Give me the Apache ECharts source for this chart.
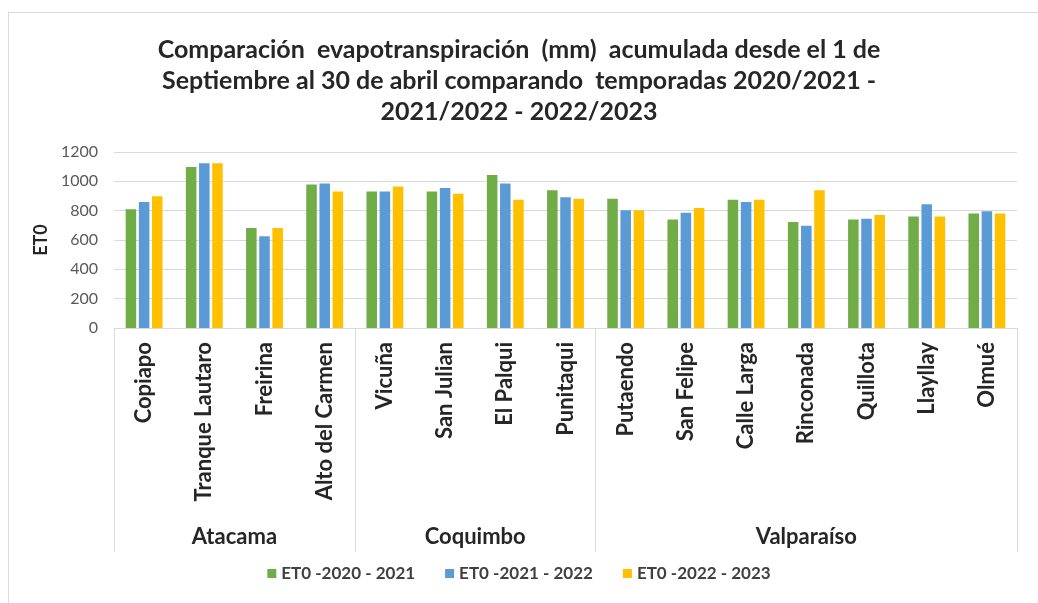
<!DOCTYPE html>
<html>
<head>
<meta charset="utf-8">
<script src="https://cdn.jsdelivr.net/npm/echarts@6/dist/echarts.min.js"></script>
<style>
  html, body { margin: 0; padding: 0; background: #fff; }
  #frame {
    position: absolute; left: 8px; top: 12px; width: 1100px; height: 700px;
    border-left: 1px solid #d9d9d9; border-top: 1px solid #d9d9d9;
  }
  #chart { position: absolute; left: 0; top: 0; width: 1038px; height: 603px; }
</style>
</head>
<body>
<div id="frame"></div>
<div id="chart"></div>
<script>
// estaciones y regiones
var cities = ['Copiapo', 'Tranque Lautaro', 'Freirina', 'Alto del Carmen',
  'Vicuña', 'San Julian', 'El Palqui', 'Punitaqui',
  'Putaendo', 'San Felipe', 'Calle Larga', 'Rinconada', 'Quillota', 'Llayllay', 'Olmué'];
var regions = ['Atacama', 'Coquimbo', 'Valparaíso'];
var regionSizes = [4, 4, 7];

var seriesNames = ['ET0 -2020 - 2021', 'ET0 -2021 - 2022', 'ET0 -2022 - 2023'];
var et2020 = [809, 1098, 682, 979, 930, 930, 1044, 939, 882, 739, 875, 723, 739, 761, 780];
var et2021 = [859, 1123, 625, 986, 930, 955, 986, 891, 802, 786, 859, 698, 745, 843, 796];
var et2022 = [898, 1123, 682, 930, 964, 916, 875, 882, 802, 818, 875, 939, 771, 761, 780];

var yTicks = [0, 200, 400, 600, 800, 1000, 1200];

var titleLines = [
  'Comparación  evapotranspiración  (mm)  acumulada desde el 1 de',
  'Septiembre al 30 de abril comparando  temporadas 2020/2021 -',
  '2021/2022 - 2022/2023'
];

var colors = ['#70ad47', '#5b9bd5', '#ffc000'];
var font = 'Lato, "Open Sans", sans-serif';

// limites y centros de las regiones en el eje
var bounds = [0];
var centers = [];
regionSizes.forEach(function (n, i) {
  centers.push(bounds[i] + n / 2);
  bounds.push(bounds[i] + n);
});

var chart = echarts.init(document.getElementById('chart'));
var option = {
  animation: false,
  color: colors,
  textStyle: { fontFamily: font },
  title: titleLines.map(function (t, i) {
    return {
      text: t,
      left: 'center',
      top: 32 + i * 31,
      textStyle: { fontFamily: font, fontSize: 25, fontWeight: 'bold', color: '#262626' }
    };
  }),
  legend: {
    bottom: 16,
    left: 'center',
    icon: 'rect',
    itemWidth: 9,
    itemHeight: 9,
    itemGap: 30,
    textStyle: { fontFamily: font, fontSize: 17, fontWeight: 'bold', color: '#404040' },
    data: seriesNames
  },
  grid: { left: 114, right: 21, top: 152, bottom: 275 },
  xAxis: [
    {
      type: 'category',
      data: cities,
      axisLine: { lineStyle: { color: '#d9d9d9' } },
      axisTick: { show: false },
      axisLabel: {
        rotate: 90, margin: 14, interval: 0,
        fontFamily: font, fontSize: 22, fontWeight: 'bold', color: '#262626'
      }
    },
    {
      type: 'value',
      min: 0,
      max: cities.length,
      position: 'bottom',
      axisLine: { show: false },
      splitLine: { show: false },
      axisTick: { show: true, customValues: bounds, length: 224, lineStyle: { color: '#d9d9d9' } },
      axisLabel: {
        customValues: centers,
        margin: 198,
        fontFamily: font, fontSize: 22, fontWeight: 'bold', color: '#262626',
        formatter: function (v) {
          var i = centers.indexOf(v);
          return i >= 0 ? regions[i] : '';
        }
      }
    }
  ],
  yAxis: {
    type: 'value',
    min: yTicks[0],
    max: yTicks[yTicks.length - 1],
    interval: 200,
    name: 'ET0',
    nameLocation: 'middle',
    nameGap: 58,
    nameRotate: 90,
    nameTextStyle: { fontFamily: font, fontSize: 18, fontWeight: 'bold', color: '#262626' },
    axisLine: { show: false },
    axisTick: { show: false },
    axisLabel: {
      margin: 16, fontFamily: font, fontSize: 16, color: '#595959',
      formatter: function (v) { return String(v); }
    },
    splitLine: { lineStyle: { color: '#d9d9d9' } }
  },
  series: [
    { name: seriesNames[0], type: 'bar', data: et2020, barWidth: '17.5%', barGap: '25%' },
    { name: seriesNames[1], type: 'bar', data: et2021, barWidth: '17.5%', barGap: '25%' },
    { name: seriesNames[2], type: 'bar', data: et2022, barWidth: '17.5%', barGap: '25%' }
  ]
};
option && chart.setOption(option);
</script>
</body>
</html>
